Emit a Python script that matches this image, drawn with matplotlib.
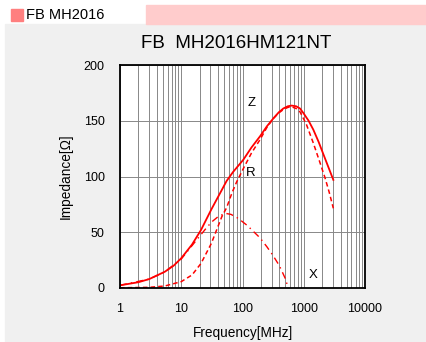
import matplotlib
matplotlib.use("Agg")
import matplotlib.pyplot as plt
from matplotlib.patches import Rectangle
from matplotlib.ticker import LogLocator, NullFormatter

plt.rcParams["font.family"] = ["Liberation Sans", "DejaVu Sans"]

# impedance curves (MHz, ohm)
freq_z = [1, 2, 3, 5.4, 7.5, 10, 15, 21, 31, 46, 55, 70, 103, 140, 193, 250, 318, 390, 464, 550, 635, 750, 868, 984, 1200, 1433, 1750, 2090, 2500, 3040]
z_vals = [2.4, 5.2, 8, 14.6, 20, 26.7, 39, 52, 70.5, 88, 96, 104, 115, 126, 136, 145, 152, 157.5, 161, 163, 163.6, 163, 161, 157, 150, 142, 131, 120, 109, 97]

freq_r = [1, 3, 5.4, 10, 15, 21, 31, 46, 55, 67, 80, 103, 140, 193, 250, 318, 390, 464, 550, 635, 750, 868, 1100, 1433, 1800, 2220, 2600, 3040]
r_vals = [0.2, 0.6, 1.8, 5.7, 11.7, 22, 40, 64, 72, 85, 95, 107, 121, 133, 144, 152, 157, 160, 162, 162.5, 161, 158, 147, 130, 114, 99, 86, 71.5]

freq_x = [1, 3, 5.4, 10, 15, 19, 25, 31, 40, 52, 65, 85, 120, 193, 250, 316, 400, 495, 560]
x_vals = [2.4, 8, 14.5, 26, 38, 45, 53, 59, 64, 67, 66, 62.5, 56, 45, 37, 29, 20, 9, 0]

fig = plt.figure(figsize=(4.26, 3.42), dpi=100)
fig.patch.set_facecolor("white")

# header band and gray panel
fig.add_artist(Rectangle((5/426, 0), 1, 1 - 24/342, transform=fig.transFigure, color="#f0f0f0", zorder=0))
fig.add_artist(Rectangle((146/426, 1 - 24/342), 1, 19/342, transform=fig.transFigure, color="#ffcccc", zorder=0))
fig.add_artist(Rectangle((11/426, 1 - 21/342), 12/426, 12/342, transform=fig.transFigure, color="#ff7f7f", zorder=0))
fig.text(26/426, 1 - 15/342, "FB MH2016", fontsize=10.5, va="center", ha="left")
fig.text(236/426, 1 - 44/342, "FB  MH2016HM121NT", fontsize=13.5, va="center", ha="center")

ax = fig.add_axes([120/426, 1 - 288/342, 245/426, 223/342])
ax.plot(freq_z, z_vals, color="red", lw=1.3)
ax.plot(freq_r, r_vals, color="red", lw=1.1, linestyle=(0, (3, 2)))
ax.plot(freq_x, x_vals, color="red", lw=1.0, linestyle=(0, (5, 3, 1, 3)))

ax.set_xscale("log")
ax.set_xlim(1, 10000)
ax.set_ylim(0, 200)
ax.set_yticks([0, 50, 100, 150, 200])
ax.xaxis.set_minor_locator(LogLocator(base=10, subs=range(2, 10), numticks=50))
ax.xaxis.set_minor_formatter(NullFormatter())
ax.set_xticks([1, 10, 100, 1000, 10000])
ax.set_xticklabels(["1", "10", "100", "1000", "10000"])
ax.grid(True, which="both", axis="x", color="#888888", lw=0.7)
ax.grid(True, which="major", axis="y", color="#888888", lw=0.7)
ax.tick_params(which="both", length=0, labelsize=9, pad=11)
for s in ax.spines.values():
    s.set_linewidth(1.3)

ax.text(141, 166, "Z", fontsize=9.5, ha="center", va="center")
ax.text(136, 103, "R", fontsize=9.5, ha="center", va="center")
ax.text(1433, 12, "X", fontsize=9.5, ha="center", va="center")

ax.set_xlabel("Frequency[MHz]", fontsize=9.8, labelpad=8)
ax.set_ylabel("Impedance[Ω]", fontsize=9.8, labelpad=8)

plt.savefig("out.png", dpi=100)
